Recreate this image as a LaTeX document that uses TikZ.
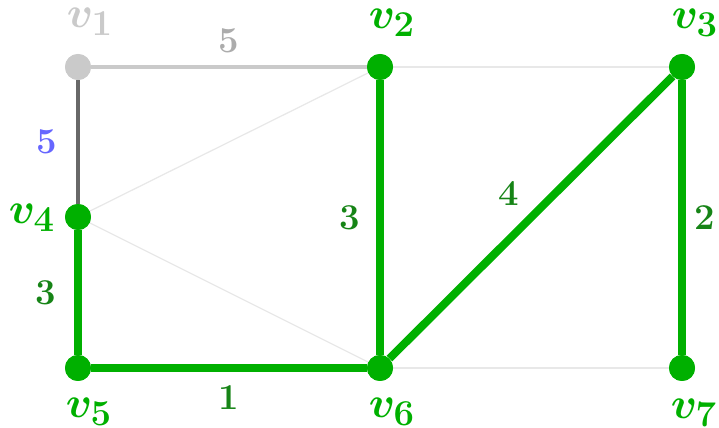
\documentclass[tikz,border=0pt]{standalone}
\usepackage{xcolor}
\usepackage{amsmath, amssymb}
\usepackage{tikz}
\usetikzlibrary{calc}
\definecolor{treegreen}{RGB}{0,176,0}
\definecolor{wgreen}{RGB}{22,132,22}
\definecolor{oldgray}{RGB}{202,202,202}
\definecolor{cutgray}{RGB}{104,104,104}
\definecolor{thingray}{RGB}{232,232,232}
\definecolor{wblue}{RGB}{102,102,255}

\begin{document}
\begin{tikzpicture}[x=0.02cm, y=-0.02cm,
  vertex/.style={circle, fill=treegreen, inner sep=0pt, minimum size=0.52cm},
  vlabel/.style={font=\Huge\boldmath, text=treegreen, inner sep=0pt},
  tree/.style={treegreen, line width=0.16cm},
  spare/.style={thingray, line width=0.025cm},
  wt/.style={font=\huge\bfseries, text=wgreen}]
\useasboundingbox (0,0) rectangle (719,428);
% thin edges first
\draw[spare] (380,67) -- (682,67);
\draw[spare] (380,67) -- (78,217);
\draw[spare] (78,217) -- (380,368);
\draw[spare] (380,368) -- (682,368);
% vertices
\node[vertex, fill=oldgray] (v1) at (78,67) {};
\node[vertex] (v2) at (380,67) {};
\node[vertex] (v3) at (682,67) {};
\node[vertex] (v4) at (78,217) {};
\node[vertex] (v5) at (78,368) {};
\node[vertex] (v6) at (380,368) {};
\node[vertex] (v7) at (682,368) {};
% vertex names
\node[vlabel, text=oldgray] (l1) at (90,22) {$v_1$};
\node[vlabel] (l2) at (392,23) {$v_2$};
\node[vlabel] (l3) at (695,23) {$v_3$};
\node[vlabel] (l4) at (32,218) {$v_4$};
\node[vlabel] (l5) at (89,412) {$v_5$};
\node[vlabel] (l6) at (392,412) {$v_6$};
\node[vlabel] (l7) at (694,413) {$v_7$};
% weighted edges
\draw[oldgray, line width=0.09cm] (v1) -- node[wt, text=oldgray!85!black, above=0.12cm] {5} (v2);
\draw[cutgray, line width=0.09cm] (v1) -- node[wt, text=wblue, left=0.25cm, pos=0.5] {5} (v4);
\draw[tree] (v4) -- node[wt, left=0.25cm] {3} (v5);
\draw[tree] (v5) -- node[wt, below=0.15cm] {1} (v6);
\draw[tree] (v2) -- node[wt, left=0.2cm] {3} (v6);
\draw[tree] (v6) -- node[wt, above=0.5cm, pos=0.42] {4} (v3);
\draw[tree] (v3) -- node[wt, right=0.05cm] {2} (v7);
% redraw vertices on top
\foreach \v in {v2,v3,v4,v5,v6,v7} {\fill[treegreen] (\v) circle (0.26cm);}
\fill[oldgray] (v1) circle (0.26cm);
\end{tikzpicture}
\end{document}
